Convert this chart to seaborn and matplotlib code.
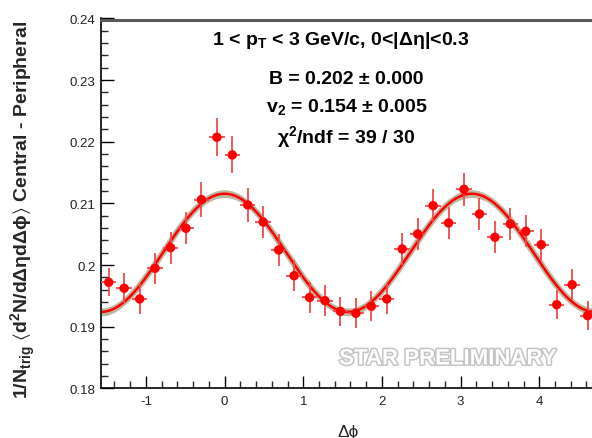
import numpy as np
import pandas as pd
import matplotlib
matplotlib.use("Agg")
import matplotlib.pyplot as plt
import matplotlib.patheffects as pe
from matplotlib.lines import Line2D
from matplotlib.ticker import MultipleLocator
import seaborn as sns

# ---- data ----
n_bins = 32
dphi = -np.pi / 2 + (np.arange(n_bins) + 0.5) * (2 * np.pi / n_bins)
values = [0.19722, 0.19625, 0.19452, 0.19949, 0.20283, 0.20598, 0.21062, 0.22074,
          0.21787, 0.20976, 0.20700, 0.20246, 0.19829, 0.19476, 0.19424, 0.19249,
          0.19220, 0.19333, 0.19452, 0.20262, 0.20506, 0.20965, 0.20684, 0.21230,
          0.20830, 0.20452, 0.20668, 0.20549, 0.20332, 0.19359, 0.19683, 0.19181]
errors = [0.0023, 0.0024, 0.0025, 0.0025, 0.0026, 0.0026, 0.0028, 0.0031,
          0.0030, 0.0027, 0.0026, 0.0026, 0.0025, 0.0025, 0.0025, 0.0024,
          0.0024, 0.0024, 0.0025, 0.0026, 0.0026, 0.0027, 0.0026, 0.0027,
          0.0026, 0.0026, 0.0026, 0.0026, 0.0026, 0.0024, 0.0025, 0.0024]
B = 0.202
v2 = 0.154
v2_err = 0.005

df = pd.DataFrame({"dphi": dphi, "val": values, "err": errors})

xf = np.linspace(-np.pi / 2, 3 * np.pi / 2, 400)
fit = B * (1 + 2 * v2 ** 2 * np.cos(2 * xf))
fit_lo = B * (1 + 2 * (v2 - v2_err) ** 2 * np.cos(2 * xf))
fit_hi = B * (1 + 2 * (v2 + v2_err) ** 2 * np.cos(2 * xf))
fit_df = pd.DataFrame({"x": xf, "y": fit})

# ---- style ----
sns.set_style("white")
plt.rcParams["font.family"] = ["Liberation Sans", "DejaVu Sans"]
plt.rcParams["mathtext.fontset"] = "custom"
plt.rcParams["mathtext.rm"] = "Liberation Sans:bold"
plt.rcParams["mathtext.bf"] = "Liberation Sans:bold"
plt.rcParams["mathtext.fallback"] = "stix"

fig = plt.figure(figsize=(5.92, 4.39), dpi=100)
ax = fig.add_axes([0.1706, 0.1128, 0.835, 0.8428])

band_col = "#bfb6a2"
ax.fill_between(xf, fit_lo, fit_hi, color=band_col, lw=0, zorder=1)
ax.plot(xf, fit, color=band_col, lw=4.5, zorder=1, solid_capstyle="butt")
sns.lineplot(data=fit_df, x="x", y="y", ax=ax, color="#ff0000", lw=1.8,
             zorder=2, sort=False)

ax.errorbar(df["dphi"], df["val"], yerr=df["err"], xerr=np.pi / 32,
            fmt="none", ecolor="#f24a4a", elinewidth=1.3, capsize=0, zorder=3)
sns.scatterplot(data=df, x="dphi", y="val", ax=ax, color="#ff0000", s=46,
                edgecolor="none", zorder=4)

ax.set_xlim(-np.pi / 2, 3 * np.pi / 2)
ax.set_ylim(0.18, 0.24)

ax.xaxis.set_minor_locator(MultipleLocator(0.2))
ax.yaxis.set_minor_locator(MultipleLocator(0.002))
ax.set_yticks([0.18, 0.19, 0.20, 0.21, 0.22, 0.23, 0.24])
ax.set_yticklabels(["0.18", "0.19", "0.2", "0.21", "0.22", "0.23", "0.24"])
ax.set_xticks([-1, 0, 1, 2, 3, 4])
ax.set_xticklabels(["-1", "0", "1", "2", "3", "4"])

ax.tick_params(axis="both", which="major", direction="in", length=9, width=1,
               labelsize=9.5, colors="black", labelcolor="#222222",
               bottom=True, left=True, top=False, right=False)
ax.tick_params(axis="both", which="minor", direction="in", length=5, width=1,
               bottom=True, left=True, top=False, right=False)
ax.tick_params(axis="x", which="major", pad=5)
ax.tick_params(axis="y", which="major", pad=4)

for s in ["left", "bottom"]:
    ax.spines[s].set_color("black")
    ax.spines[s].set_linewidth(1.2)
ax.spines["top"].set_visible(False)
ax.spines["right"].set_visible(False)
top_y = 1 - 20.5 / 439
fig.add_artist(Line2D([0.1706, 1.0], [top_y, top_y], color="#5a5a5a", lw=2.2,
                      transform=fig.transFigure, zorder=20))

ax.set_xlabel("Δϕ", fontsize=12.5, labelpad=12)
ax.set_ylabel(r"1/N$_{\rm trig}$ $\langle$d$^{\rm 2}$N/dΔηdΔϕ$\rangle$ Central - Peripheral",
              fontsize=14, fontweight="bold")
ax.yaxis.set_label_coords(-0.128, 0.485)

txt_kw = dict(transform=fig.transFigure, ha="center", va="center",
              fontsize=14, fontweight="bold", color="black")
fig.text(0.575, 0.908, r"1 < p$_{\rm T}$ < 3 GeV/c, 0<|Δη|<0.3", **txt_kw)
fig.text(0.585, 0.82, "B = 0.202 ± 0.000", **txt_kw)
fig.text(0.587, 0.755, r"v$_{\rm 2}$ = 0.154 ± 0.005", **txt_kw)
fig.text(0.585, 0.686, r"χ$^{\rm 2}$/ndf = 39 / 30", **txt_kw)

fig.text(0.757, 0.18, "STAR PRELIMINARY", transform=fig.transFigure,
         ha="center", va="center", fontsize=16, fontweight="bold",
         color="white",
         path_effects=[pe.withStroke(linewidth=2.2, foreground="#c4c4c4")],
         zorder=10)

fig.savefig("out.png", dpi=100)
